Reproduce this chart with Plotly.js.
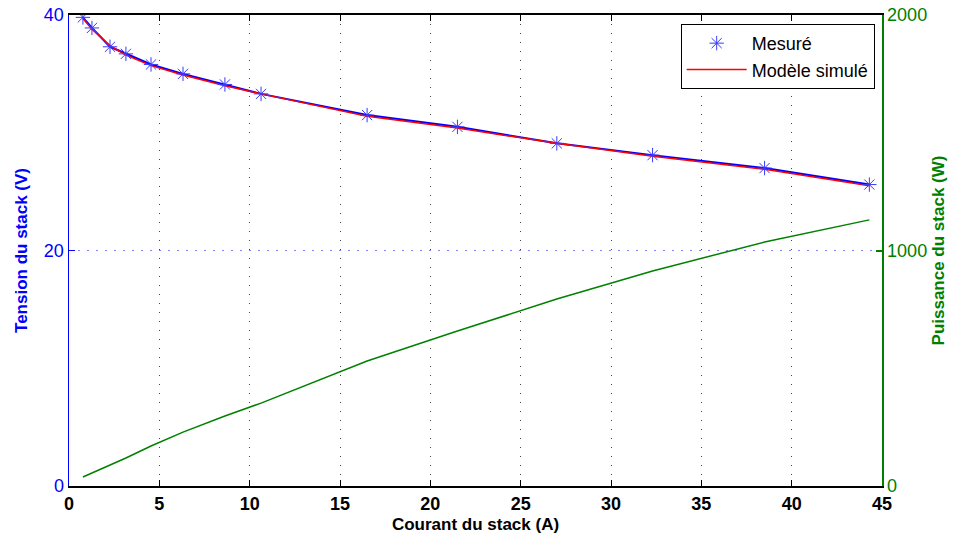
<!DOCTYPE html>
<html><head><meta charset="utf-8">
<script src="https://cdn.plot.ly/plotly-3.0.1.min.js"></script>
<style>body{margin:0}#g{width:958px;height:542px}</style>
</head><body><div id="g"></div>
<script>
const courant = [0.77, 1.27, 2.27, 3.15, 4.54, 6.31, 8.63, 10.63, 16.5, 21.5, 27.0, 32.3, 38.5, 44.3];
const tensionMesuree = [39.8, 38.9, 37.3, 36.7, 35.8, 35.0, 34.1, 33.3, 31.5, 30.5, 29.1, 28.1, 27.0, 25.6];
const courantModele = [0.77, 1.27, 2.27, 3.15, 4.54, 6.31, 8.63, 10.63, 16.5, 21.5, 27.0, 32.3, 38.5, 44.3];
const tensionModele = [39.7, 38.8, 37.4, 36.6, 35.7, 34.9, 34.0, 33.3, 31.4, 30.4, 29.1, 28.0, 26.9, 25.5];
const puissance = [38, 55, 89, 119, 170, 229, 297, 352, 531, 658, 794, 913, 1036, 1130];

const traces = [
  {x: courant, y: tensionMesuree, mode: 'lines', line: {color: '#0000ff', width: 2}, showlegend: false, hoverinfo: 'skip'},
  {x: courantModele, y: tensionModele, mode: 'lines', name: 'Modèle simulé', line: {color: '#ff0000', width: 1.5}, showlegend: true, legendrank: 2},
  {x: courant, y: tensionMesuree, mode: 'markers', name: 'Mesuré', marker: {symbol: 'asterisk-open', size: 12, color: '#3a3aff', line: {color: '#3a3aff', width: 1}}, legendrank: 1},
  {x: courant, y: puissance, mode: 'lines', yaxis: 'y2', line: {color: '#008000', width: 1.5}, showlegend: false}
];

const layout = {
  width: 958, height: 542,
  margin: {l: 69, r: 76, t: 15, b: 56},
  paper_bgcolor: 'white', plot_bgcolor: 'white',
  font: {family: 'Liberation Sans, Arial, sans-serif', size: 16, color: '#000'},
  showlegend: true,
  legend: {x: 0.991, y: 0.981, xanchor: 'right', yanchor: 'top', bgcolor: 'white', bordercolor: '#000', borderwidth: 1, font: {size: 18}, traceorder: 'normal', itemwidth: 60, tracegroupgap: 0},
  xaxis: {
    range: [0, 45], dtick: 5, tick0: 0,
    ticks: 'inside', ticklen: 6, tickcolor: '#000', tickwidth: 1,
    showline: true, linecolor: '#000', linewidth: 2, mirror: 'ticks',
    showgrid: true, gridcolor: '#444', griddash: '1px,8px', gridwidth: 1,
    zeroline: false,
    tickfont: {size: 18, weight: 'bold', color: '#000'},
    title: {text: 'Courant du stack (A)', font: {size: 17, weight: 'bold', color: '#000'}, standoff: 6}
  },
  yaxis: {
    range: [0, 40], dtick: 20, tick0: 0,
    ticks: 'inside', ticklen: 6, tickcolor: '#0000ff',
    showline: true, linecolor: '#0000ff', linewidth: 1.5,
    showgrid: true, gridcolor: '#8080ff', griddash: '2px,7px', gridwidth: 1.5,
    zeroline: false,
    tickfont: {size: 18, color: '#0000ff'},
    title: {text: 'Tension du stack (V)', font: {size: 17, weight: 'bold', color: '#0000ff'}, standoff: 12}
  },
  yaxis2: {
    overlaying: 'y', side: 'right',
    range: [0, 2000], dtick: 1000, tick0: 0,
    ticks: 'inside', ticklen: 6, tickcolor: '#008000', tickwidth: 2,
    showline: true, linecolor: '#008000', linewidth: 1.5,
    showgrid: false, zeroline: false,
    tickfont: {size: 18, color: '#008000'},
    title: {text: 'Puissance du stack (W)', font: {size: 17, weight: 'bold', color: '#008000'}, standoff: 6}
  }
};

Plotly.newPlot('g', traces, layout, {displayModeBar: false, staticPlot: true});
</script>
</body></html>
